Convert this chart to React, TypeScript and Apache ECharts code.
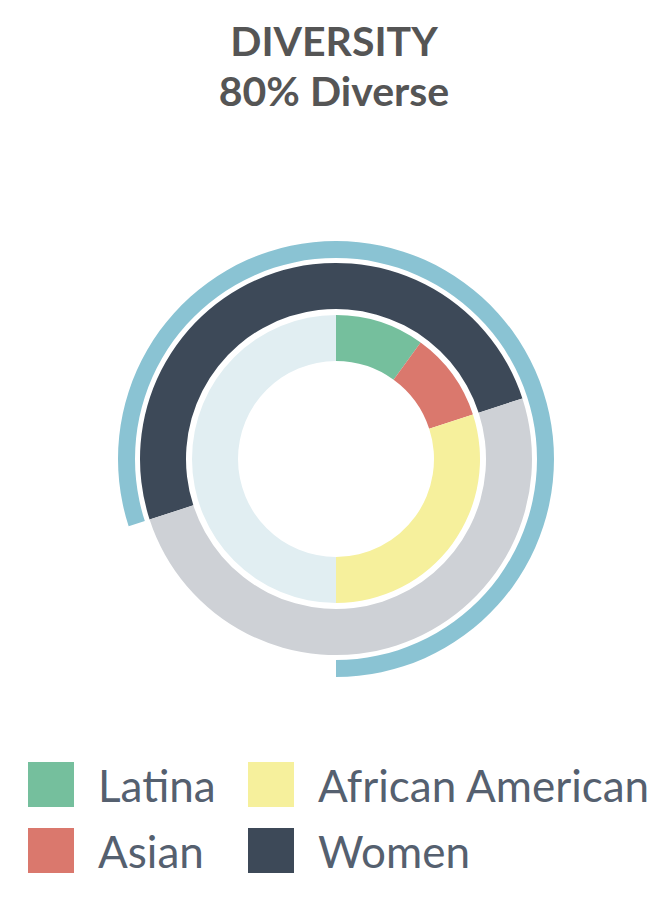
import React, { useEffect, useRef } from "react";
import * as echarts from "echarts";

const titleLines = ["DIVERSITY", "80% Diverse"];

const diverseShare = [80, 20];
const genderNames = ["Women", "Men"];
const genderValues = [50, 50];
const ethnicNames = ["Latina", "Asian", "African American", "Other"];
const ethnicValues = [10, 10, 30, 50];

const colors: Record<string, string> = {
  Diverse: "#8ac3d3",
  Women: "#3d4958",
  Men: "#ced1d6",
  Latina: "#75bf9d",
  Asian: "#da786d",
  "African American": "#f6f09c",
  Other: "#e1eef2",
};

const legendLeft = ["Latina", "Asian"];
const legendRight = ["African American", "Women"];

export default function App() {
  const ref = useRef<HTMLDivElement>(null);
  useEffect(() => {
    if (!ref.current) return;
    const chart = echarts.init(ref.current, undefined, { renderer: "svg" });
    const center = [336, 459];
    const common = {
      type: "pie",
      center,
      silent: true,
      label: { show: false },
      labelLine: { show: false },
      emphasis: { disabled: true },
      itemStyle: { borderWidth: 0 },
    };
    const legendText = {
      fontFamily: "Lato",
      fontWeight: 400,
      fontSize: 44,
      color: "#55606f",
      padding: [14, 0, 0, 19],
    };
    const legendBase = {
      orient: "vertical",
      top: 762,
      padding: 0,
      itemWidth: 46,
      itemHeight: 45,
      itemGap: 21,
      icon: "rect",
      selectedMode: false,
      textStyle: legendText,
    };
    chart.setOption({
      animation: false,
      backgroundColor: "#ffffff",
      title: {
        text: titleLines.join("\n"),
        left: "center",
        top: 10,
        textStyle: {
          fontFamily: "Lato",
          fontSize: 41,
          fontWeight: "bold",
          color: "#555555",
          lineHeight: 50,
        },
      },
      legend: [
        { ...legendBase, data: legendLeft, left: 28 },
        { ...legendBase, data: legendRight, left: 248 },
      ],
      series: [
        {
          ...common,
          name: "diverse",
          radius: [201, 218],
          startAngle: 270,
          clockwise: false,
          data: [
            { name: "Diverse", value: diverseShare[0], itemStyle: { color: colors.Diverse } },
            { name: "rest", value: diverseShare[1], itemStyle: { color: "rgba(0,0,0,0)" } },
          ],
        },
        {
          ...common,
          name: "gender",
          radius: [150, 196],
          startAngle: 198,
          clockwise: true,
          data: genderNames.map((n, i) => ({
            name: n,
            value: genderValues[i],
            itemStyle: { color: colors[n] },
          })),
        },
        {
          ...common,
          name: "ethnicity",
          radius: [98, 144],
          startAngle: 90,
          clockwise: true,
          data: ethnicNames.map((n, i) => ({
            name: n,
            value: ethnicValues[i],
            itemStyle: { color: colors[n] },
          })),
        },
      ],
    });
    return () => chart.dispose();
  }, []);
  return (
    <div
      ref={ref}
      style={{ position: "absolute", left: 0, top: 0, width: 668, height: 918 }}
    />
  );
}
